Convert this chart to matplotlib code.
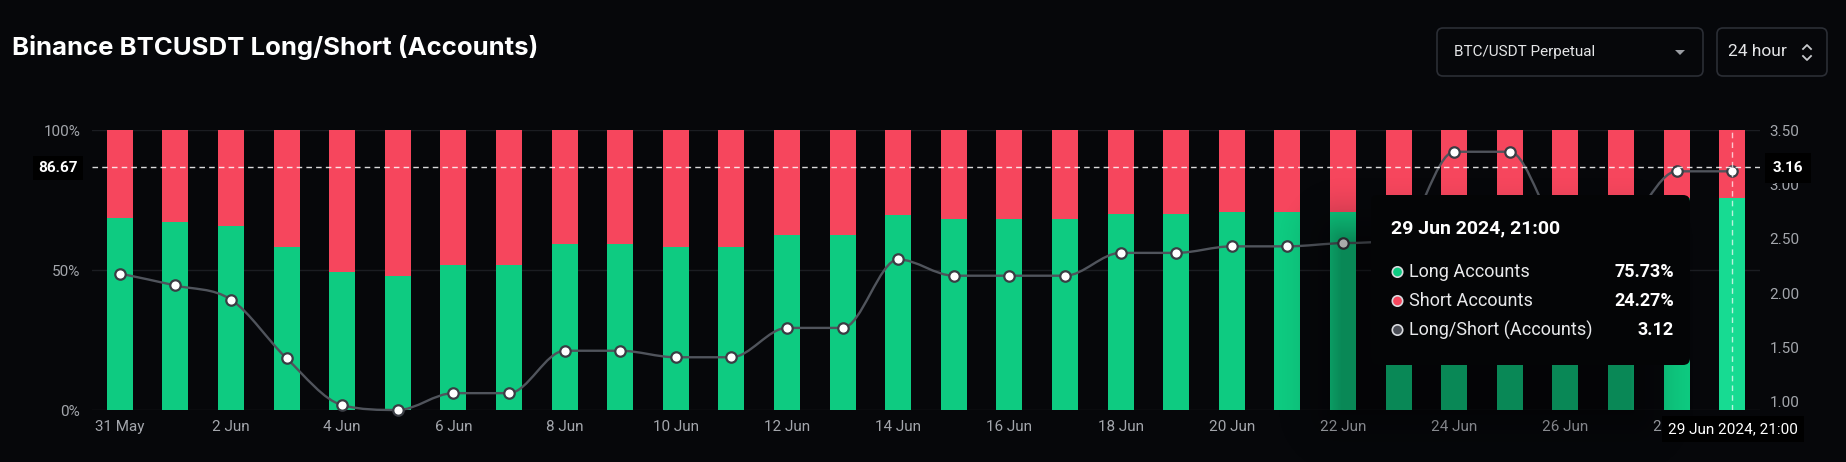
import numpy as np
import matplotlib
matplotlib.use("Agg")
import matplotlib.pyplot as plt
from matplotlib.path import Path
from matplotlib.patches import PathPatch, FancyBboxPatch, Circle, Polygon
from matplotlib.lines import Line2D
from matplotlib.transforms import IdentityTransform

# ---- data ----
dates = ["31 May", "1 Jun", "2 Jun", "3 Jun", "4 Jun", "5 Jun", "6 Jun", "7 Jun",
         "8 Jun", "9 Jun", "10 Jun", "11 Jun", "12 Jun", "13 Jun", "14 Jun", "15 Jun",
         "16 Jun", "17 Jun", "18 Jun", "19 Jun", "20 Jun", "21 Jun", "22 Jun", "23 Jun",
         "24 Jun", "25 Jun", "26 Jun", "27 Jun", "28 Jun", "29 Jun"]
long_pct = [68.5, 67.3, 65.8, 58.1, 49.2, 48.0, 51.7, 51.7, 59.3, 59.3,
            58.3, 58.3, 62.6, 62.6, 69.6, 68.2, 68.2, 68.3, 70.0, 70.0,
            70.6, 70.6, 70.8, 71.4, 76.7, 76.7, 71.8, 72.2, 75.7, 75.73]
short_pct = [100 - v for v in long_pct]
ratio = [2.18, 2.07, 1.94, 1.40, 0.97, 0.925, 1.08, 1.08, 1.47, 1.47,
         1.41, 1.41, 1.68, 1.68, 2.31, 2.16, 2.16, 2.16, 2.37, 2.37,
         2.43, 2.43, 2.46, 2.50, 3.30, 3.30, 2.55, 2.60, 3.12, 3.12]
ratio_ticks = [1.0, 1.5, 2.0, 2.5, 3.0, 3.5]
pct_ticks = [0, 50, 100]
hover_idx = 29
cross_pct = 86.67
cross_ratio = 3.16

W, H = 1846, 462
BG = "#06070a"
TIP_BG = "#040506"
GREEN = "#0ecb81"
GREEN_HI = "#17db92"
RED = "#f6465d"
GRAY = "#a3a6ac"
LINE = "#50545c"

plt.rcParams["font.family"] = ["Roboto", "DejaVu Sans"]

fig = plt.figure(figsize=(W / 100, H / 100), dpi=100, facecolor=BG)


def fx(x):
    return x / W


def fy(y):
    return 1 - y / H


ax = fig.add_axes([fx(92), 52 / H, (1760 - 92) / W, 280 / H])
ax.set_facecolor(BG)
x = np.arange(len(dates))

colors_long = [GREEN_HI if i == hover_idx else GREEN for i in x]
ax.bar(x, long_pct, width=0.47, color=colors_long, zorder=2)
ax.bar(x, short_pct, bottom=long_pct, width=0.47, color=RED, zorder=2)

ax.set_xlim(-0.5, len(dates) - 0.5)
ax.set_ylim(0, 100)
ax.set_yticks(pct_ticks)
ax.set_yticklabels([f"{v}%" for v in pct_ticks])
ax.set_xticks(x[::2])
ax.set_xticklabels(dates[::2])
ax.grid(axis="y", color="#1b1d22", lw=1, zorder=0)
ax.tick_params(axis="y", length=0, colors=GRAY, labelsize=11, pad=8.5)
ax.tick_params(axis="x", length=0, colors=GRAY, labelsize=11, pad=7)
for s in ax.spines.values():
    s.set_visible(False)

# ratio axis
ax2 = ax.twinx()
ax2.set_ylim(min(ratio), 3.5)
ax2.set_yticks(ratio_ticks)
ax2.set_yticklabels([f"{v:.2f}" for v in ratio_ticks])
ax2.tick_params(axis="y", length=0, colors=GRAY, labelsize=11, pad=7)
for s in ax2.spines.values():
    s.set_visible(False)

# monotone cubic line (chart.js style)
y = np.array(ratio)
d = np.diff(y)
m = np.zeros_like(y)
m[0], m[-1] = d[0], d[-1]
for k in range(1, len(y) - 1):
    if d[k - 1] * d[k] > 0:
        m[k] = (d[k - 1] + d[k]) / 2
for k in range(len(d)):
    if d[k] == 0:
        m[k] = m[k + 1] = 0
    else:
        a, b = m[k] / d[k], m[k + 1] / d[k]
        if a * a + b * b > 9:
            t = 3 / np.hypot(a, b)
            m[k], m[k + 1] = t * a * d[k], t * b * d[k]
verts = [(x[0], y[0])]
codes = [Path.MOVETO]
for k in range(len(d)):
    verts += [(x[k] + 1 / 3, y[k] + m[k] / 3), (x[k + 1] - 1 / 3, y[k + 1] - m[k + 1] / 3), (x[k + 1], y[k + 1])]
    codes += [Path.CURVE4] * 3
ax2.add_patch(PathPatch(Path(verts, codes), fill=False, edgecolor=LINE, lw=1.7, zorder=3, clip_on=False))
ax2.plot(x, ratio, "o", ms=7.5, mfc="white", mec="#3a3d44", mew=1.6, zorder=4, clip_on=False)

# crosshair
ax2.axhline(cross_ratio, color="white", lw=1, ls=(0, (4, 3)), alpha=0.85, zorder=5)
ax2.axvline(hover_idx, color="white", lw=1, ls=(0, (4, 3)), alpha=0.7, zorder=5)

# tooltip shadow (offset down-left)
bx0, by0, bx1, by1 = 1371, 195, 1690, 365
rx0, ry0, rx1, ry1 = bx0 - 30, by0 + 45, bx1 - 60, by1 + 45
sx0, sy0, sx1, sy1 = bx0 - 110, by0 - 40, bx1 + 20, H
gx, gy = np.meshgrid(np.arange(sx0, sx1), np.arange(sy0, sy1))
zero = np.zeros_like(gx)
ddx = np.maximum.reduce([rx0 - gx, zero, gx - rx1])
ddy = np.maximum.reduce([ry0 - gy, zero, gy - ry1])
dist = np.hypot(ddx, ddy)
alpha = 0.33 * np.clip(1 - dist / 70, 0, 1) ** 2
img = np.zeros(alpha.shape + (4,))
img[..., 3] = alpha
fig.figimage(img, xo=sx0, yo=H - sy1, origin="upper", zorder=0.5)

# tooltip box
fig.add_artist(FancyBboxPatch((bx0, H - by1), bx1 - bx0, by1 - by0,
                              boxstyle="round,pad=0,rounding_size=7",
                              facecolor=TIP_BG, edgecolor="none",
                              transform=IdentityTransform(), zorder=1))
fig.text(fx(1391), fy(228), "29 Jun 2024, 21:00", color="white", fontsize=14,
         fontweight="bold", va="center", ha="left", zorder=3)
rows = [("Long Accounts", f"{long_pct[hover_idx]:.2f}%", GREEN),
        ("Short Accounts", f"{short_pct[hover_idx]:.2f}%", RED),
        ("Long/Short (Accounts)", f"{ratio[hover_idx]:.2f}", "#4a4d55")]
for i, (lab, val, c) in enumerate(rows):
    yy = 272 + i * 29
    fig.add_artist(Circle((1397.5, H - yy), 5.2, facecolor=c, edgecolor="#d8dadd",
                          lw=1.2, transform=IdentityTransform(), zorder=2))
    fig.text(fx(1409), fy(yy), lab, color="#e8e9eb", fontsize=13, va="center", ha="left", zorder=3)
    fig.text(fx(1674), fy(yy), val, color="white", fontsize=13, fontweight="bold",
             va="center", ha="right", zorder=3)

# crosshair labels
fig.text(fx(78), fy(168), f"{cross_pct:.2f}", color="white", fontsize=11, fontweight="bold",
         va="center", ha="right", zorder=3,
         bbox=dict(boxstyle="square,pad=0.35", facecolor="black", edgecolor="none"))
fig.text(fx(1773), fy(168), f"{cross_ratio:.2f}", color="white", fontsize=11, fontweight="bold",
         va="center", ha="left", zorder=3,
         bbox=dict(boxstyle="square,pad=0.5", facecolor="black", edgecolor="none"))
fig.text(fx(1733), fy(429), "29 Jun 2024, 21:00", color="white", fontsize=11,
         va="center", ha="center", zorder=3,
         bbox=dict(boxstyle="square,pad=0.4", facecolor="black", edgecolor="none"))

# title and controls
fig.text(fx(12), fy(47), "Binance BTCUSDT Long/Short (Accounts)", color="white",
         fontsize=18.5, fontweight="bold", family=["Inter", "DejaVu Sans"], va="center", ha="left")
for (x0, x1) in [(1437, 1703), (1717, 1827)]:
    fig.add_artist(FancyBboxPatch((x0, H - 76), x1 - x0, 48, boxstyle="round,pad=0,rounding_size=6",
                                  facecolor=BG, edgecolor="#2b2e35", lw=1.2,
                                  transform=IdentityTransform(), zorder=1))
fig.text(fx(1454), fy(52), "BTC/USDT Perpetual", color="#e4e5e7", fontsize=11, va="center", ha="left")
fig.add_artist(Polygon([(1675, H - 50), (1685, H - 50), (1680, H - 55)], closed=True,
                       facecolor="#9a9da3", edgecolor="none", transform=IdentityTransform(), zorder=2))
fig.text(fx(1728), fy(52), "24 hour", color="#e4e5e7", fontsize=12.5, va="center", ha="left")
# up / down chevrons
fig.add_artist(Line2D([1803, 1807, 1811], [H - 49, H - 45, H - 49], color="#c9cbce", lw=1.3,
                      transform=IdentityTransform(), zorder=2))
fig.add_artist(Line2D([1803, 1807, 1811], [H - 56, H - 60, H - 56], color="#c9cbce", lw=1.3,
                      transform=IdentityTransform(), zorder=2))

fig.savefig("out.png", dpi=100, facecolor=BG)
